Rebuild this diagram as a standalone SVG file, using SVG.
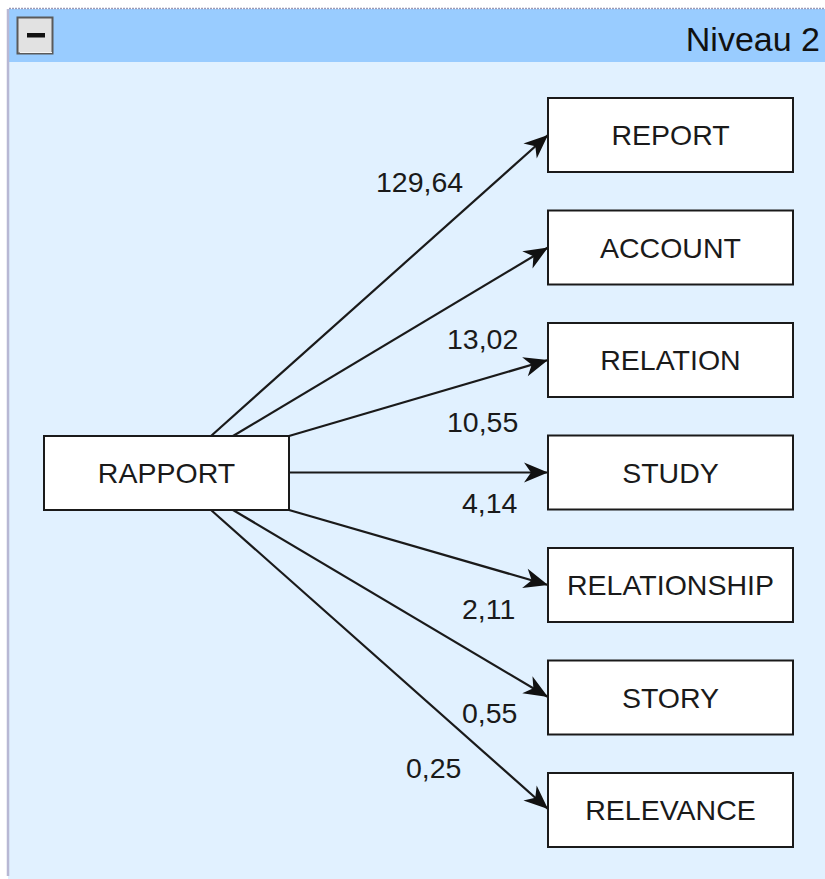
<svg xmlns="http://www.w3.org/2000/svg" width="825" height="879" viewBox="0 0 825 879">
  <style>
    .node rect { fill: #ffffff; stroke: #1a1a1a; stroke-width: 2; }
    .node text { font-family: "Liberation Sans", Arial, sans-serif; font-size: 28.5px; fill: #1a1a1a; text-anchor: middle; }
    .edge { stroke: #1a1a1a; stroke-width: 2.2; fill: none; marker-end: url(#arrow); }
    .weight { font-family: "Liberation Sans", Arial, sans-serif; font-size: 28.5px; fill: #1a1a1a; }
    .title { font-family: "Liberation Sans", Arial, sans-serif; font-size: 34px; fill: #111111; text-anchor: end; }
  </style>
  <defs>
    <marker id="arrow" markerUnits="userSpaceOnUse" markerWidth="28" markerHeight="24" viewBox="-2 -12 28 24" refX="24" refY="0" orient="auto">
      <path d="M0,-10 L24,0 L0,10 L7,0 Z" fill="#111111"/>
    </marker>
  </defs>

  <!-- page background -->
  <rect x="0" y="0" width="825" height="879" fill="#ffffff"/>

  <!-- panel -->
  <g id="panel">
    <rect x="8" y="9" width="830" height="880" fill="#e1f1ff"/>
    <rect x="8" y="9" width="830" height="53" fill="#99ccff"/>
    <line x1="9" y1="8.5" x2="825" y2="8.5" stroke="#9a9ab8" stroke-width="1.5" stroke-dasharray="2 1"/>
    <line x1="8" y1="9" x2="8" y2="876" stroke="#b8b8d4" stroke-width="2.5"/>
    <g id="collapse">
      <rect x="17.5" y="17.5" width="35" height="36" fill="#e2e2e2" stroke="#5a5a5a" stroke-width="2"/>
      <line x1="20" y1="52.5" x2="52" y2="52.5" stroke="#f4f4f4" stroke-width="1"/>
      <rect x="27" y="33" width="18" height="4.5" fill="#111111"/>
    </g>
    <text class="title" x="820" y="51">Niveau 2</text>
  </g>

  <!-- connectors -->
  <g id="connectors">
    <line class="edge" x1="211" y1="436" x2="548" y2="135"/>
    <line class="edge" x1="233" y1="436" x2="548" y2="247.5"/>
    <line class="edge" x1="289" y1="436" x2="548" y2="360"/>
    <line class="edge" x1="289" y1="472.5" x2="548" y2="472.5"/>
    <line class="edge" x1="289" y1="510" x2="548" y2="585"/>
    <line class="edge" x1="233" y1="510" x2="548" y2="697"/>
    <line class="edge" x1="211" y1="510" x2="548" y2="809"/>

    <text class="weight" x="376" y="192">129,64</text>
    <text class="weight" x="447" y="349">13,02</text>
    <text class="weight" x="447" y="432">10,55</text>
    <text class="weight" x="462" y="513">4,14</text>
    <text class="weight" x="462" y="619">2,11</text>
    <text class="weight" x="462" y="723">0,55</text>
    <text class="weight" x="406" y="778">0,25</text>
  </g>

  <!-- nodes -->
  <g id="rapport" class="node">
    <rect x="44" y="436" width="245" height="74"/>
    <text x="166.5" y="483">RAPPORT</text>
  </g>
  <g id="report" class="node">
    <rect x="548" y="98" width="245" height="74"/>
    <text x="670.5" y="145">REPORT</text>
  </g>
  <g id="account" class="node">
    <rect x="548" y="210.5" width="245" height="74"/>
    <text x="670.5" y="257.5">ACCOUNT</text>
  </g>
  <g id="relation" class="node">
    <rect x="548" y="323" width="245" height="74"/>
    <text x="670.5" y="370">RELATION</text>
  </g>
  <g id="study" class="node">
    <rect x="548" y="435.5" width="245" height="74"/>
    <text x="670.5" y="482.5">STUDY</text>
  </g>
  <g id="relationship" class="node">
    <rect x="548" y="548" width="245" height="74"/>
    <text x="670.5" y="595">RELATIONSHIP</text>
  </g>
  <g id="story" class="node">
    <rect x="548" y="660.5" width="245" height="74"/>
    <text x="670.5" y="707.5">STORY</text>
  </g>
  <g id="relevance" class="node">
    <rect x="548" y="773" width="245" height="74"/>
    <text x="670.5" y="820">RELEVANCE</text>
  </g>
</svg>
